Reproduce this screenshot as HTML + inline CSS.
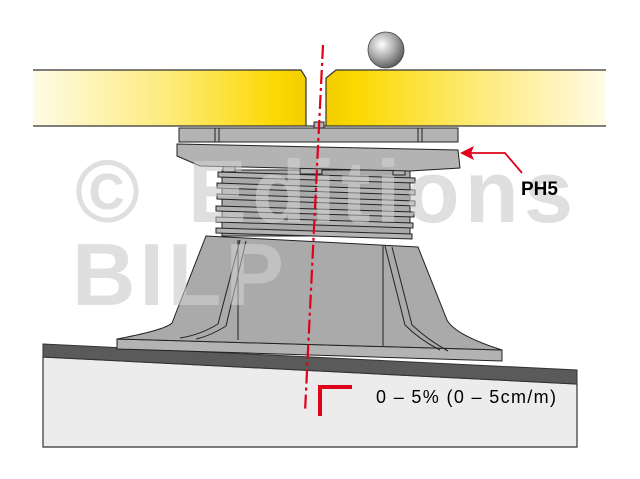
<!DOCTYPE html>
<html><head><style>html,body{margin:0;padding:0;background:#fff}svg{display:block}</style></head>
<body>
<svg width="640" height="479" viewBox="0 0 640 479" xmlns="http://www.w3.org/2000/svg">
<defs>
<linearGradient id="yl" x1="33" x2="306" y1="0" y2="0" gradientUnits="userSpaceOnUse">
<stop offset="0" stop-color="#fffbe6"/><stop offset="0.5" stop-color="#fdeb7a"/><stop offset="0.9" stop-color="#fbd800"/><stop offset="1" stop-color="#f2cc00"/></linearGradient>
<linearGradient id="yr" x1="326" x2="606" y1="0" y2="0" gradientUnits="userSpaceOnUse">
<stop offset="0" stop-color="#f2cc00"/><stop offset="0.1" stop-color="#fbd800"/><stop offset="0.55" stop-color="#fdeb7a"/><stop offset="1" stop-color="#fffbe6"/></linearGradient>
<radialGradient id="ball" cx="0.38" cy="0.35" r="0.7"><stop offset="0" stop-color="#fff"/><stop offset="0.5" stop-color="#b0b0b0"/><stop offset="1" stop-color="#555"/></radialGradient>
</defs>
<g font-family="Liberation Sans, sans-serif" font-weight="bold" fill="#e8e8e8">
<text x="75" y="222" font-size="88">©</text>
<text x="188" y="222" font-size="88" textLength="385">Editions</text>
<text x="72" y="305" font-size="88" textLength="212">BILP</text>
</g>
<polygon points="43,357 577,384 577,447 43,447" fill="#ececec" stroke="#333" stroke-width="1.2"/>
<polygon points="43,344 577,370 577,384 43,357" fill="#5a5a5a" stroke="#333" stroke-width="1"/>
<g stroke="#222" stroke-width="1" fill="#b3b3b3">
<polygon points="117,339 502,350 502,361 117,349"/>
<path d="M206,236 L418,247 L447,320 Q455,335 502,350 L117,339 Q165,330 172,323 Z" fill="#aaaaaa"/>
<path d="M240,240 L218,324 Q200,335 180,338" fill="none"/>
<path d="M246,241 L226,326 Q210,336 196,339" fill="none"/>
<path d="M385,246 L405,325 Q420,340 440,350" fill="none"/>
<path d="M392,247 L412,325 Q428,340 448,351" fill="none"/>
<line x1="238" y1="240" x2="238" y2="340" />
<line x1="383" y1="246" x2="383" y2="346" />
<rect x="222" y="170" width="188" height="66" fill="#a9a9a9"/>
<polygon points="218,172 415,178 415,183 218,177"/>
<polygon points="217,183 415,190 415,195 217,188"/>
<polygon points="217,194 415,201 415,206 217,199"/>
<polygon points="216,206 414,212 414,217 216,211"/>
<polygon points="216,217 413,223 413,228 216,222"/>
<polygon points="216,228 412,234 412,239 216,233"/>
<rect x="223" y="160" width="12" height="12"/>
<rect x="300" y="162" width="22" height="12"/>
<rect x="393" y="163" width="12" height="12"/>
<polygon points="177,144 458,150 460,168 410,171 200,166 177,156"/>
<rect x="179" y="128" width="279" height="14"/>
<line x1="215" y1="128" x2="215" y2="142"/><line x1="219" y1="128" x2="219" y2="142"/>
<line x1="418" y1="128" x2="418" y2="142"/><line x1="422" y1="128" x2="422" y2="142"/>
</g>
<polygon points="33,70 301,70 306,78 306,126 33,126" fill="url(#yl)"/>
<polygon points="336,70 606,70 606,126 326,126 326,78" fill="url(#yr)"/>
<polyline points="33,70 301,70 306,78 306,126" fill="none" stroke="#333" stroke-width="1.2"/>
<polyline points="606,70 336,70 326,78 326,126" fill="none" stroke="#333" stroke-width="1.2"/>
<line x1="33" y1="126" x2="606" y2="126" stroke="#333" stroke-width="1.2"/>
<rect x="314" y="122" width="10" height="6" fill="#b3b3b3" stroke="#222"/>
<circle cx="386" cy="50" r="18" fill="url(#ball)" stroke="#444" stroke-width="0.8"/>
<g font-family="Liberation Sans, sans-serif" font-weight="bold" fill="#d8d8d8" opacity="0.5">
<text x="75" y="222" font-size="88">©</text>
<text x="188" y="222" font-size="88" textLength="385">Editions</text>
<text x="72" y="305" font-size="88" textLength="212">BILP</text>
</g>
<line x1="323" y1="45" x2="305" y2="412" stroke="#e0001b" stroke-width="2.2" stroke-dasharray="14,4,3,4"/>
<polyline points="320,416 320,387 352,387" fill="none" stroke="#e0001b" stroke-width="4"/>
<polyline points="522,173 505,153 470,153" fill="none" stroke="#e0001b" stroke-width="1.8"/>
<polygon points="460,153 474,146 471,153 474,160" fill="#e0001b"/>
<text x="521" y="195" font-family="Liberation Sans, sans-serif" font-weight="bold" font-size="19">PH5</text>
<text x="376" y="403" font-family="Liberation Sans, sans-serif" font-size="18" textLength="180">0 – 5% (0 – 5cm/m)</text>
</svg>
</body></html>
